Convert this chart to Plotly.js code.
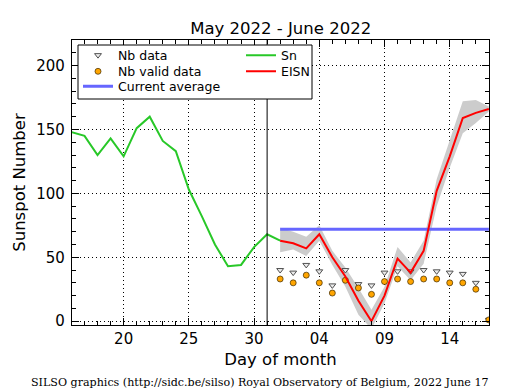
<!DOCTYPE html>
<html>
<head>
<meta charset="utf-8">
<script src="https://cdn.plot.ly/plotly-3.0.1.min.js"></script>
<style>html,body{margin:0;padding:0;background:#fff;}#chart{width:515px;height:390px;}</style>
</head>
<body>
<div id="chart"></div>
<script>
// Sn (daily sunspot number), May 16 - June 1
var snDates = ['2022-05-16','2022-05-17','2022-05-18','2022-05-19','2022-05-20','2022-05-21','2022-05-22','2022-05-23','2022-05-24','2022-05-25','2022-05-26','2022-05-27','2022-05-28','2022-05-29','2022-05-30','2022-05-31','2022-06-01'];
var snValues = [148, 145, 130, 143, 129, 151, 160, 141, 133, 103, 82, 60, 43, 44, 58, 68, 63];

// EISN (estimated international sunspot number), June 1 - June 17
var eisnDates = ['2022-06-01','2022-06-02','2022-06-03','2022-06-04','2022-06-05','2022-06-06','2022-06-07','2022-06-08','2022-06-09','2022-06-10','2022-06-11','2022-06-12','2022-06-13','2022-06-14','2022-06-15','2022-06-16','2022-06-17'];
var eisnValues = [63, 61, 57, 68, 50, 35, 16, 0, 20, 49, 38, 55, 102, 129, 159, 163, 166];
var eisnUpper  = [73, 70, 66, 75, 55, 42, 26, 9, 27, 58, 46, 63, 111, 141, 172, 173, 168];
var eisnLower  = [54, 56, 51, 63, 44, 27, 5, -6, 14, 43, 32, 45, 90, 120, 147, 155, 164];

// Number of stations
var nbData      = [40, 38, 44, 39, 28, 40, 29, 28, 38, 39, 39, 40, 39, 38, 37, 30, 1];
var nbValidData = [33, 30, 36, 30, 22, 32, 26, 21, 31, 33, 31, 33, 33, 30, 30, 25, 1];

// Current average
var currentAverage = 72;

var tickDates  = ['2022-05-20','2022-05-25','2022-05-30','2022-06-04','2022-06-09','2022-06-14'];
var markerDate = '2022-05-31';

var bandX = eisnDates.concat(eisnDates.slice().reverse());
var bandY = eisnUpper.concat(eisnLower.slice().reverse());
var avgX = [eisnDates[0], eisnDates[eisnDates.length - 1]];
var avgY = [currentAverage, currentAverage];

var traces = [
  {x: bandX, y: bandY, type: 'scatter', mode: 'lines', fill: 'toself',
   fillcolor: 'rgb(204,204,204)', line: {width: 0}, showlegend: false, hoverinfo: 'skip'},
  {x: avgX, y: avgY, type: 'scatter', mode: 'lines', name: 'Current average',
   line: {color: 'rgb(102,102,255)', width: 3}, legend: 'legend3'},
  {x: snDates, y: snValues, type: 'scatter', mode: 'lines', name: 'Sn',
   line: {color: 'rgb(40,200,40)', width: 2}, legend: 'legend4'},
  {x: eisnDates, y: nbData, type: 'scatter', mode: 'markers', name: 'Nb data',
   marker: {symbol: 'triangle-down', size: 6, color: 'rgb(235,235,235)', line: {color: 'rgb(80,80,80)', width: 1}},
   legend: 'legend'},
  {x: eisnDates, y: nbValidData, type: 'scatter', mode: 'markers', name: 'Nb valid data',
   marker: {symbol: 'circle', size: 6, color: 'rgb(255,165,0)', line: {color: 'rgb(60,40,0)', width: 0.7}},
   legend: 'legend2'},
  {x: eisnDates, y: eisnValues, type: 'scatter', mode: 'lines', name: 'EISN',
   line: {color: 'rgb(255,0,0)', width: 2}, legend: 'legend5'}
];

function leg(xp, yp) {
  return {x: xp, y: yp, xanchor: 'left', yanchor: 'middle', bgcolor: 'rgba(0,0,0,0)',
          borderwidth: 0, font: {size: 12.5, color: '#000'}};
}

var W = 417, H = 285;
function px(xpx) { return (xpx - 72) / W; }
function py(ypx) { return (325 - ypx) / H; }

var layout = {
  width: 515, height: 390,
  margin: {l: 72, r: 26, t: 40, b: 65},
  paper_bgcolor: '#fff', plot_bgcolor: '#fff',
  font: {family: 'DejaVu Sans', color: '#000'},
  title: {text: 'May 2022 - June 2022', font: {size: 16.5, color: '#000'}, x: 0.545, xanchor: 'center', y: 0.928, yanchor: 'middle'},
  xaxis: {
    type: 'date', range: ['2022-05-16 01:00', '2022-06-17 00:15'],
    tickvals: tickDates, tickformat: '%d',
    ticks: 'inside', ticklen: 7, tickcolor: '#000', tickwidth: 1,
    minor: {dtick: 86400000, tick0: '2022-05-16', ticks: 'inside', ticklen: 4, tickcolor: '#000', showgrid: false},
    showline: true, linecolor: '#000', linewidth: 1.2, mirror: 'allticks',
    showgrid: true, gridcolor: '#000', gridwidth: 1, griddash: '1px,3px',
    tickfont: {size: 15}, zeroline: false,
    title: {text: 'Day of month', font: {size: 16.5}, standoff: 6}
  },
  yaxis: {
    range: [-3, 220],
    tickvals: [0, 50, 100, 150, 200],
    ticks: 'inside', ticklen: 7, tickcolor: '#000', tickwidth: 1,
    minor: {dtick: 10, tick0: 0, ticks: 'inside', ticklen: 4, tickcolor: '#000', showgrid: false},
    showline: true, linecolor: '#000', linewidth: 1.2, mirror: 'allticks',
    showgrid: true, gridcolor: '#000', gridwidth: 1, griddash: '1px,3px',
    tickfont: {size: 15}, zeroline: false, ticklabelstandoff: 3,
    title: {text: 'Sunspot Number', font: {size: 16.5}, standoff: 6}
  },
  shapes: [
    {type: 'line', xref: 'x', yref: 'paper', x0: markerDate, x1: markerDate, y0: 0, y1: 1,
     line: {color: '#000', width: 1}, layer: 'above'},
    {type: 'rect', xref: 'paper', yref: 'paper', x0: px(78), x1: px(312), y0: py(99), y1: py(45),
     fillcolor: '#fff', line: {color: '#000', width: 1}, layer: 'above'}
  ],
  legend:  leg(px(78), py(55.5)),
  legend2: leg(px(78), py(71.7)),
  legend3: leg(px(78), py(86.7)),
  legend4: leg(px(241), py(55.5)),
  legend5: leg(px(241), py(71.7)),
  annotations: [
    {text: 'SILSO graphics (http://sidc.be/silso) Royal Observatory of Belgium, 2022 June 17',
     xref: 'paper', yref: 'paper', x: px(260), y: py(382), xanchor: 'center', yanchor: 'middle',
     showarrow: false, font: {family: 'DejaVu Serif', size: 11.1, color: '#000'}}
  ]
};

Plotly.newPlot('chart', traces, layout, {staticPlot: true, displayModeBar: false});
</script>
</body>
</html>
